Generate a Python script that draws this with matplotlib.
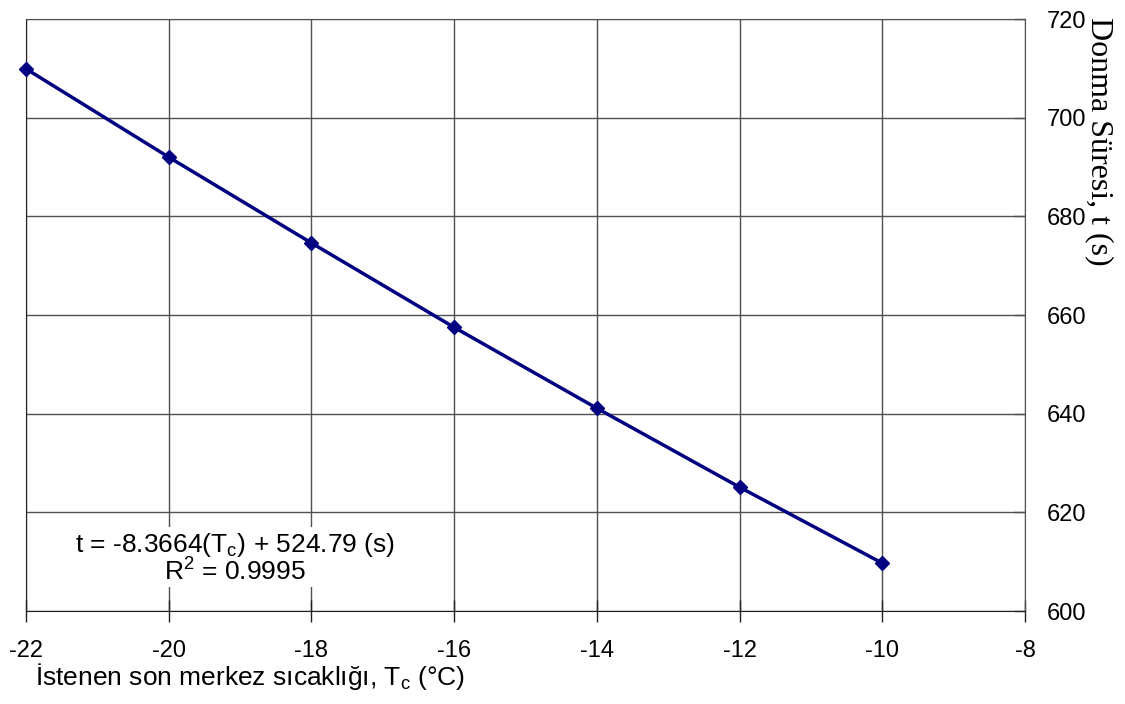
import matplotlib
matplotlib.use("Agg")
import matplotlib.pyplot as plt

temps = [-22, -20, -18, -16, -14, -12, -10]
times = [709.9, 692.0, 674.6, 657.5, 641.1, 625.1, 609.7]
x_ticks = [-22, -20, -18, -16, -14, -12, -10, -8]
y_ticks = [600, 620, 640, 660, 680, 700, 720]

plt.rcParams['font.family'] = ['Liberation Sans', 'DejaVu Sans']
plt.rcParams['mathtext.fontset'] = 'custom'
plt.rcParams['mathtext.rm'] = 'Liberation Sans'
plt.rcParams['mathtext.it'] = 'Liberation Sans'
plt.rcParams['axes.unicode_minus'] = False

W, H = 1125, 704
fig = plt.figure(figsize=(W / 100, H / 100), dpi=100)
ax = fig.add_axes([26 / W, 1 - 611 / H, 999 / W, 592 / H])

grid_c = '#505050'
ax.plot(temps, times, color='#000080', lw=2.5, marker='D', markersize=7.5,
        zorder=3, clip_on=False)

ax.set_xlim(-22, -8)
ax.set_ylim(600, 720)
ax.set_xticks(x_ticks)
ax.set_yticks(y_ticks)
ax.grid(True, color=grid_c, lw=1)
ax.set_axisbelow(True)

ax.yaxis.tick_right()
ax.tick_params(axis='y', direction='in', length=8, width=1, color=grid_c,
               labelsize=17, pad=16)
ax.tick_params(axis='x', direction='inout', length=16, width=1, color='#202020',
               labelsize=17, pad=13)
for s in ['left', 'bottom']:
    ax.spines[s].set_color('#202020')
for s in ['right', 'top']:
    ax.spines[s].set_color(grid_c)

fig.text(1099 / W, 1 - 17 / H, 'Donma Süresi, t (s)', rotation=-90,
         ha='center', va='top', fontsize=23, family=['Liberation Serif', 'DejaVu Serif'])

fig.text(35 / W, 1 - 685 / H, 'İstenen son merkez sıcaklığı, T$_\\mathregular{c}$ (°C)',
         ha='left', va='baseline', fontsize=19)

ax.text(-19.07, 610.7, 't = -8.3664(T$_\\mathregular{c}$) + 524.79 (s)\nR$^\\mathregular{2}$ = 0.9995',
        ha='center', va='center', fontsize=19, linespacing=1.0, multialignment='center',
        bbox=dict(facecolor='white', edgecolor='none', pad=1), zorder=2)

fig.savefig('out.png', dpi=100)
